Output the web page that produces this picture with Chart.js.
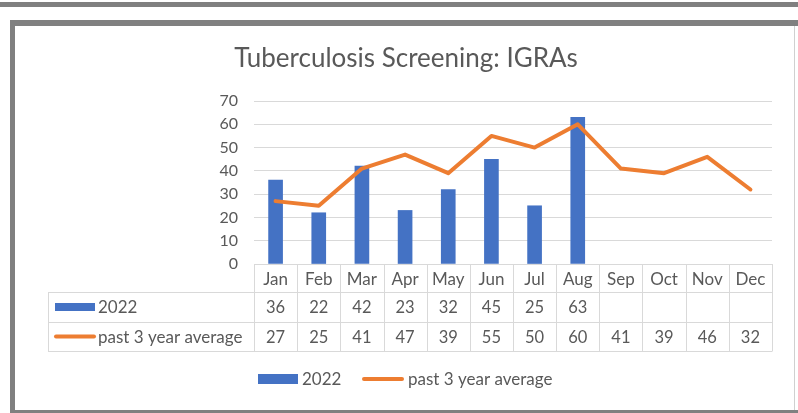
<!DOCTYPE html>
<html>
<head>
<meta charset="utf-8">
<script src="https://cdn.jsdelivr.net/npm/chart.js@4/dist/chart.umd.min.js"></script>
<style>
  html, body { margin: 0; padding: 0; background: #ffffff; }
  #wrap { position: relative; width: 798px; height: 413px; overflow: hidden; }
  canvas { position: absolute; left: 0; top: 0; }
</style>
</head>
<body>
<div id="wrap"><canvas id="c" width="798" height="413"></canvas></div>
<script>
const months = ['Jan','Feb','Mar','Apr','May','Jun','Jul','Aug','Sep','Oct','Nov','Dec'];
const values2022 = [36, 22, 42, 23, 32, 45, 25, 63, null, null, null, null];
const avg3yr = [27, 25, 41, 47, 39, 55, 50, 60, 41, 39, 46, 32];
const yTicks = [0, 10, 20, 30, 40, 50, 60, 70];
const seriesNames = ['2022', 'past 3 year average'];
const titleText = 'Tuberculosis Screening: IGRAs';

const FONT = 'Lato, "Open Sans", sans-serif';
const TXT = '#595959';
const GRID = '#d9d9d9';
const BLUE = '#4472C4';
const ORANGE = '#ED7D31';

const tablePlugin = {
  id: 'tablePlugin',
  afterDraw(chart) {
    const ctx = chart.ctx;
    const x = chart.scales.x;
    const ca = chart.chartArea;
    const n = months.length;
    const colW = (ca.right - ca.left) / n;
    const rowTop = ca.bottom;        // header row top
    const r1 = rowTop + 28;          // first data row top
    const r2 = r1 + 30;
    const r3 = r2 + 29;
    const tableLeft = 48;

    ctx.save();
    ctx.strokeStyle = GRID;
    ctx.lineWidth = 1;
    ctx.beginPath();
    ctx.moveTo(ca.left, rowTop + 0.5); ctx.lineTo(ca.right, rowTop + 0.5);
    [r1, r2, r3].forEach(y => { ctx.moveTo(tableLeft, y + 0.5); ctx.lineTo(ca.right, y + 0.5); });
    for (let i = 0; i <= n; i++) {
      const px = Math.round(x.getPixelForValue(i) - colW / 2) + 0.5;
      ctx.moveTo(px, rowTop); ctx.lineTo(px, r3 + 0.5);
    }
    ctx.moveTo(tableLeft + 0.5, r1); ctx.lineTo(tableLeft + 0.5, r3 + 0.5);
    ctx.stroke();

    // values
    ctx.fillStyle = TXT;
    ctx.font = '16.5px ' + FONT;
    ctx.textAlign = 'center';
    ctx.textBaseline = 'middle';
    const ds = chart.data.datasets;
    for (let i = 0; i < n; i++) {
      const cx = x.getPixelForValue(i);
      const a = ds[0].data[i], b = ds[1].data[i];
      if (a !== null && a !== undefined) ctx.fillText(String(a), cx, (r1 + r2) / 2 + 1);
      if (b !== null && b !== undefined) ctx.fillText(String(b), cx, (r2 + r3) / 2 + 1);
    }

    // row legend keys
    ctx.font = '17px ' + FONT;
    ctx.textAlign = 'left';
    ctx.fillStyle = ds[0].backgroundColor;
    ctx.fillRect(55, (r1 + r2) / 2 - 4, 40, 8);
    ctx.strokeStyle = ds[1].borderColor;
    ctx.lineWidth = 4;
    ctx.lineCap = 'round';
    ctx.beginPath();
    ctx.moveTo(56, (r2 + r3) / 2); ctx.lineTo(94, (r2 + r3) / 2);
    ctx.stroke();
    ctx.fillStyle = TXT;
    ctx.fillText(ds[0].label, 98, (r1 + r2) / 2 + 1);
    ctx.fillText(ds[1].label, 98, (r2 + r3) / 2 + 1);

    // bottom legend
    const ly = 379;
    ctx.fillStyle = ds[0].backgroundColor;
    ctx.fillRect(258, ly - 5, 40, 10);
    ctx.fillStyle = TXT;
    ctx.fillText(ds[0].label, 302, ly + 1);
    ctx.strokeStyle = ds[1].borderColor;
    ctx.beginPath();
    ctx.moveTo(364, ly); ctx.lineTo(402, ly);
    ctx.stroke();
    ctx.fillText(ds[1].label, 408, ly + 1);

    // title
    ctx.font = '26px ' + FONT;
    ctx.textAlign = 'center';
    ctx.fillText(titleText, 406, 59);

    // frame
    ctx.fillStyle = '#808080';
    ctx.fillRect(0, 2, 798, 5);
    ctx.fillRect(10, 20, 788, 6);
    ctx.fillRect(10, 20, 5, 393);
    ctx.fillRect(10, 410, 788, 3);
    ctx.fillStyle = '#d0d0d0';
    ctx.fillRect(794, 26, 1, 384);
    ctx.restore();
  }
};

new Chart(document.getElementById('c'), {
  data: {
    labels: months,
    datasets: [
      {
        type: 'bar',
        label: seriesNames[0],
        data: values2022,
        backgroundColor: BLUE,
        barThickness: 14,
        order: 2
      },
      {
        type: 'line',
        label: seriesNames[1],
        data: avg3yr,
        borderColor: ORANGE,
        backgroundColor: ORANGE,
        borderWidth: 4,
        pointRadius: 0,
        tension: 0,
        borderJoinStyle: 'round',
        borderCapStyle: 'round',
        order: 1
      }
    ]
  },
  options: {
    responsive: false,
    animation: false,
    events: [],
    layout: { padding: { top: 101, left: 20, right: 26, bottom: 121 } },
    plugins: { legend: { display: false }, title: { display: false }, tooltip: { enabled: false } },
    scales: {
      x: {
        grid: { display: false, drawTicks: false, tickLength: 0 },
        border: { display: false },
        ticks: { color: TXT, font: { family: FONT, size: 17 }, padding: 5, maxRotation: 0 },
        afterFit(s) { s.height = 28; }
      },
      y: {
        min: 0, max: 70,
        afterBuildTicks(s) { s.ticks = yTicks.map(v => ({ value: v })); },
        grid: { color: GRID, drawTicks: false, tickLength: 0 },
        border: { display: false },
        ticks: { color: TXT, font: { family: FONT, size: 16 }, padding: 16 },
        afterFit(s) { s.width = 234; }
      }
    }
  },
  plugins: [tablePlugin]
});
</script>
</body>
</html>
